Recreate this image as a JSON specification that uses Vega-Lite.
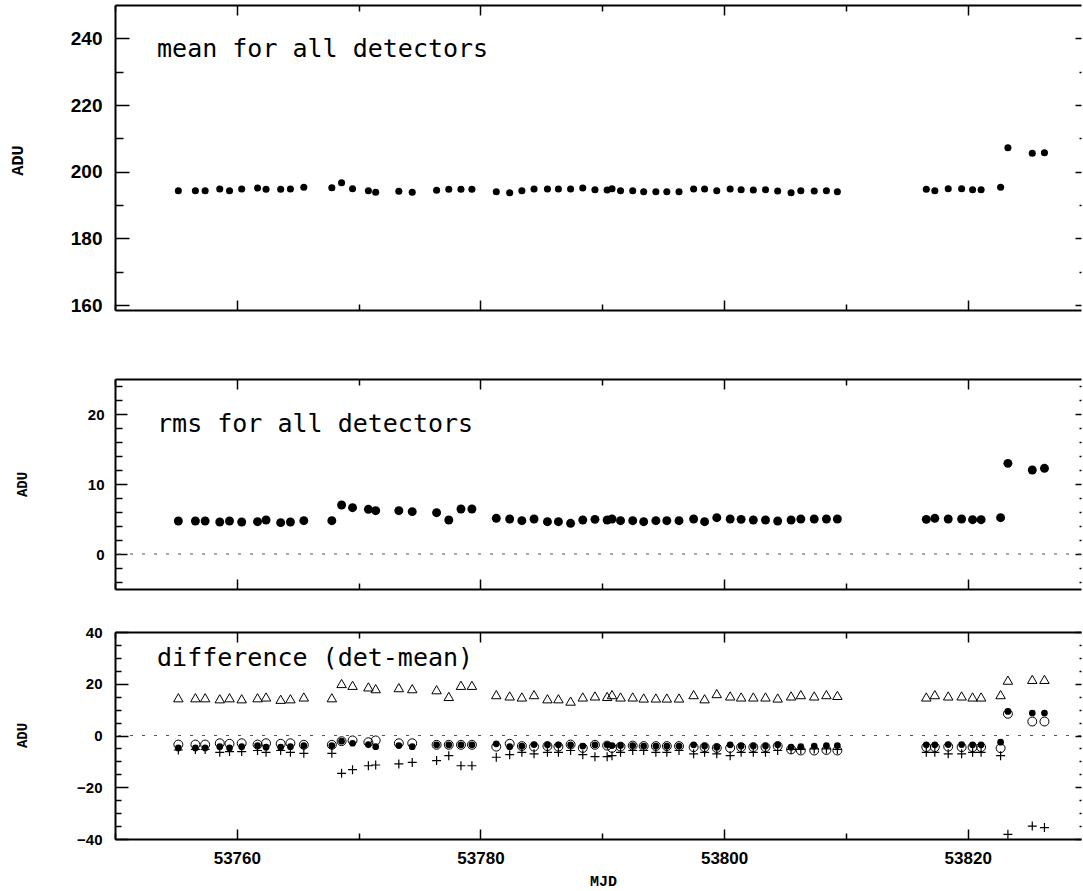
{
  "$schema": "https://vega.github.io/schema/vega-lite/v6.json",
  "padding": {"left": 8, "top": 4, "right": 0, "bottom": 5},
  "datasets": {
    "d": [
      {"mjd": 53755.2, "mean": 194.3, "rms": 4.71, "tri": 14.6, "open": -3.5, "fill": -4.8, "plus": -5.6},
      {"mjd": 53756.6, "mean": 194.3, "rms": 4.71, "tri": 14.6, "open": -3.5, "fill": -4.8, "plus": -5.4},
      {"mjd": 53757.4, "mean": 194.3, "rms": 4.71, "tri": 14.6, "open": -3.5, "fill": -4.8, "plus": -5.4},
      {"mjd": 53758.6, "mean": 194.8, "rms": 4.57, "tri": 14.2, "open": -3.0, "fill": -4.3, "plus": -6.5},
      {"mjd": 53759.4, "mean": 194.3, "rms": 4.71, "tri": 14.6, "open": -3.2, "fill": -4.8, "plus": -6.2},
      {"mjd": 53760.4, "mean": 194.8, "rms": 4.57, "tri": 14.2, "open": -3.0, "fill": -4.3, "plus": -6.2},
      {"mjd": 53761.7, "mean": 195.1, "rms": 4.62, "tri": 14.6, "open": -3.5, "fill": -3.9, "plus": -5.8},
      {"mjd": 53762.4, "mean": 194.7, "rms": 4.86, "tri": 14.9, "open": -3.0, "fill": -4.5, "plus": -6.5},
      {"mjd": 53763.6, "mean": 194.7, "rms": 4.48, "tri": 14.0, "open": -3.2, "fill": -4.5, "plus": -5.8},
      {"mjd": 53764.4, "mean": 194.8, "rms": 4.57, "tri": 14.2, "open": -3.0, "fill": -4.3, "plus": -6.5},
      {"mjd": 53765.5, "mean": 195.3, "rms": 4.76, "tri": 14.9, "open": -3.6, "fill": -3.9, "plus": -6.9},
      {"mjd": 53767.8, "mean": 195.2, "rms": 4.76, "tri": 14.6, "open": -3.6, "fill": -3.9, "plus": -6.9},
      {"mjd": 53768.6, "mean": 196.7, "rms": 7.0, "tri": 20.1, "open": -2.2, "fill": -2.2, "plus": -14.6},
      {"mjd": 53769.5, "mean": 194.9, "rms": 6.62, "tri": 19.4, "open": -1.9, "fill": -3.0, "plus": -13.2},
      {"mjd": 53770.8, "mean": 194.3, "rms": 6.38, "tri": 18.8, "open": -2.6, "fill": -3.5, "plus": -11.7},
      {"mjd": 53771.4, "mean": 193.8, "rms": 6.19, "tri": 18.1, "open": -1.9, "fill": -4.3, "plus": -11.4},
      {"mjd": 53773.3, "mean": 194.1, "rms": 6.19, "tri": 18.5, "open": -3.0, "fill": -3.9, "plus": -11.0},
      {"mjd": 53774.4, "mean": 193.8, "rms": 6.05, "tri": 18.1, "open": -3.0, "fill": -4.3, "plus": -10.4},
      {"mjd": 53776.4, "mean": 194.4, "rms": 5.9, "tri": 17.7, "open": -3.6, "fill": -3.6, "plus": -9.7},
      {"mjd": 53777.4, "mean": 194.7, "rms": 4.86, "tri": 15.1, "open": -3.6, "fill": -3.6, "plus": -7.8},
      {"mjd": 53778.4, "mean": 194.7, "rms": 6.43, "tri": 19.4, "open": -3.6, "fill": -3.6, "plus": -11.7},
      {"mjd": 53779.3, "mean": 194.7, "rms": 6.43, "tri": 19.4, "open": -3.6, "fill": -3.6, "plus": -11.7},
      {"mjd": 53781.3, "mean": 194.0, "rms": 5.1, "tri": 15.8, "open": -4.3, "fill": -3.2, "plus": -8.4},
      {"mjd": 53782.4, "mean": 193.7, "rms": 5.0, "tri": 15.3, "open": -3.2, "fill": -4.3, "plus": -7.4},
      {"mjd": 53783.4, "mean": 194.3, "rms": 4.76, "tri": 14.9, "open": -4.1, "fill": -4.1, "plus": -6.5},
      {"mjd": 53784.4, "mean": 194.8, "rms": 5.0, "tri": 15.8, "open": -4.3, "fill": -3.5, "plus": -7.1},
      {"mjd": 53785.5, "mean": 194.8, "rms": 4.62, "tri": 14.2, "open": -4.1, "fill": -3.6, "plus": -6.5},
      {"mjd": 53786.4, "mean": 194.8, "rms": 4.62, "tri": 14.2, "open": -4.3, "fill": -3.6, "plus": -6.5},
      {"mjd": 53787.4, "mean": 194.8, "rms": 4.38, "tri": 13.3, "open": -3.5, "fill": -3.6, "plus": -5.8},
      {"mjd": 53788.4, "mean": 195.1, "rms": 4.86, "tri": 14.9, "open": -4.8, "fill": -4.1, "plus": -7.4},
      {"mjd": 53789.4, "mean": 194.6, "rms": 4.95, "tri": 15.3, "open": -3.6, "fill": -3.6, "plus": -8.2},
      {"mjd": 53790.4, "mean": 194.5, "rms": 4.86, "tri": 15.1, "open": -3.9, "fill": -3.6, "plus": -8.2},
      {"mjd": 53790.8, "mean": 194.9, "rms": 5.0, "tri": 15.8, "open": -4.8, "fill": -3.9, "plus": -7.8},
      {"mjd": 53791.5, "mean": 194.3, "rms": 4.76, "tri": 14.9, "open": -4.3, "fill": -3.9, "plus": -6.5},
      {"mjd": 53792.5, "mean": 194.3, "rms": 4.76, "tri": 14.9, "open": -3.9, "fill": -3.9, "plus": -5.8},
      {"mjd": 53793.4, "mean": 194.0, "rms": 4.62, "tri": 14.5, "open": -4.1, "fill": -4.1, "plus": -5.8},
      {"mjd": 53794.4, "mean": 194.0, "rms": 4.76, "tri": 14.5, "open": -4.1, "fill": -4.1, "plus": -6.5},
      {"mjd": 53795.3, "mean": 194.0, "rms": 4.76, "tri": 14.5, "open": -4.1, "fill": -4.1, "plus": -6.5},
      {"mjd": 53796.3, "mean": 194.0, "rms": 4.76, "tri": 14.5, "open": -4.1, "fill": -4.1, "plus": -5.8},
      {"mjd": 53797.5, "mean": 194.8, "rms": 5.0, "tri": 15.8, "open": -4.5, "fill": -3.6, "plus": -7.1},
      {"mjd": 53798.4, "mean": 194.8, "rms": 4.62, "tri": 14.2, "open": -4.5, "fill": -4.1, "plus": -6.5},
      {"mjd": 53799.4, "mean": 194.3, "rms": 5.19, "tri": 16.2, "open": -4.8, "fill": -4.5, "plus": -7.1},
      {"mjd": 53800.5, "mean": 194.8, "rms": 5.0, "tri": 15.3, "open": -4.8, "fill": -3.6, "plus": -7.8},
      {"mjd": 53801.4, "mean": 194.6, "rms": 4.95, "tri": 14.9, "open": -4.5, "fill": -4.1, "plus": -6.5},
      {"mjd": 53802.4, "mean": 194.5, "rms": 4.86, "tri": 14.9, "open": -4.5, "fill": -4.1, "plus": -6.5},
      {"mjd": 53803.4, "mean": 194.6, "rms": 4.86, "tri": 14.9, "open": -4.5, "fill": -4.1, "plus": -6.5},
      {"mjd": 53804.4, "mean": 194.2, "rms": 4.71, "tri": 14.5, "open": -4.1, "fill": -3.6, "plus": -5.8},
      {"mjd": 53805.5, "mean": 193.7, "rms": 4.86, "tri": 15.3, "open": -5.4, "fill": -4.5, "plus": -5.4},
      {"mjd": 53806.3, "mean": 194.3, "rms": 5.0, "tri": 15.8, "open": -5.8, "fill": -4.3, "plus": -5.4},
      {"mjd": 53807.4, "mean": 194.2, "rms": 5.0, "tri": 15.3, "open": -5.8, "fill": -4.1, "plus": -5.2},
      {"mjd": 53808.4, "mean": 194.3, "rms": 5.0, "tri": 15.8, "open": -5.6, "fill": -3.9, "plus": -5.2},
      {"mjd": 53809.3, "mean": 194.0, "rms": 5.0, "tri": 15.5, "open": -5.8, "fill": -3.9, "plus": -5.4},
      {"mjd": 53816.6, "mean": 194.7, "rms": 4.95, "tri": 14.9, "open": -4.5, "fill": -3.6, "plus": -6.5},
      {"mjd": 53817.3, "mean": 194.3, "rms": 5.1, "tri": 15.8, "open": -4.5, "fill": -3.6, "plus": -6.5},
      {"mjd": 53818.4, "mean": 194.9, "rms": 5.0, "tri": 15.3, "open": -4.3, "fill": -3.5, "plus": -7.1},
      {"mjd": 53819.5, "mean": 194.9, "rms": 5.0, "tri": 15.3, "open": -4.5, "fill": -3.5, "plus": -7.1},
      {"mjd": 53820.4, "mean": 194.6, "rms": 4.9, "tri": 14.9, "open": -4.5, "fill": -3.6, "plus": -6.5},
      {"mjd": 53821.1, "mean": 194.6, "rms": 4.9, "tri": 14.9, "open": -4.5, "fill": -3.6, "plus": -6.5},
      {"mjd": 53822.7, "mean": 195.3, "rms": 5.19, "tri": 15.8, "open": -4.9, "fill": -2.6, "plus": -7.8},
      {"mjd": 53823.3, "mean": 207.2, "rms": 12.95, "tri": 21.4, "open": 8.4, "fill": 9.3, "plus": -38.2},
      {"mjd": 53825.3, "mean": 205.5, "rms": 12.0, "tri": 21.7, "open": 5.4, "fill": 8.7, "plus": -35.0},
      {"mjd": 53826.3, "mean": 205.7, "rms": 12.24, "tri": 21.7, "open": 5.4, "fill": 8.7, "plus": -35.6}
    ]
  },
  "vconcat": [
    {
      "width": 966,
      "height": 331,
      "layer": [
        {
          "data": {"name": "d"},
          "layer": [
            {
              "mark": {"type": "point", "shape": "circle", "filled": true, "color": "black", "size": 50, "opacity": 1},
              "encoding": {
                "x": {"field": "mjd", "type": "quantitative", "scale": {"domain": [53750, 53829.3], "nice": false, "zero": false},
                  "axis": {"orient": "bottom", "offset": -26, "values": [53750, 53760, 53770, 53780, 53790, 53800, 53810, 53820], "labels": false, "title": null,
                    "tickSize": {"condition": {"test": "datum.value % 20 === 0", "value": -10}, "value": -6}}},
                "y": {"field": "mean", "type": "quantitative", "scale": {"domain": [158.5, 250], "range": [305, 0], "nice": false, "zero": false},
                  "axis": {"orient": "left", "values": [160, 170, 180, 190, 200, 210, 220, 230, 240], "format": "d",
                    "labelExpr": "datum.value % 20 === 0 ? datum.label : ''", "labelFontSize": 19, "labelPadding": 27,
                    "tickSize": {"condition": {"test": "datum.value % 20 === 0", "value": -14}, "value": -8},
                    "title": "ADU", "titleFont": "Liberation Mono", "titleFontWeight": "bold", "titleFontSize": 17,
                    "titleAngle": 270, "titleX": -89, "titleY": 155, "titleAlign": "center", "titleBaseline": "bottom"}}
              }
            }
          ]
        },
        {
          "data": {"values": [{}]},
          "mark": {"type": "text", "align": "left", "baseline": "alphabetic", "font": "DejaVu Sans Mono", "fontSize": 25, "color": "black"},
          "encoding": {
            "x": {"datum": 53753.45, "type": "quantitative", "scale": {"domain": [53750, 53829.3], "nice": false, "zero": false},
              "axis": {"orient": "top", "values": [53750, 53760, 53770, 53780, 53790, 53800, 53810, 53820], "labels": false, "title": null,
                "tickSize": {"condition": {"test": "datum.value % 20 === 0", "value": -10}, "value": -6}}},
            "y": {"datum": 234.5, "type": "quantitative", "scale": {"domain": [158.5, 250], "range": [305, 0], "nice": false, "zero": false},
              "axis": {"orient": "right", "values": [160, 170, 180, 190, 200, 210, 220, 230, 240], "labels": false, "domain": false, "title": null,
                "tickSize": {"condition": {"test": "datum.value % 20 === 0", "value": -6}, "value": -2}}},
            "text": {"value": "mean for all detectors"}
          }
        }
      ],
      "resolve": {"scale": {"x": "independent", "y": "independent"}}
    },
    {
      "width": 966,
      "height": 210,
      "layer": [
        {
          "layer": [
            {
              "data": {"values": [{}]},
              "mark": {"type": "rule", "strokeDash": [3, 9], "color": "#555", "strokeWidth": 1},
              "encoding": {
                "y": {"datum": 0, "type": "quantitative", "scale": {"domain": [-5, 25], "nice": false, "zero": false},
                  "axis": {"orient": "left", "values": [-4, -2, 0, 2, 4, 6, 8, 10, 12, 14, 16, 18, 20, 22, 24], "format": "d",
                    "labelExpr": "datum.value % 10 === 0 ? datum.label : ''", "labelFontSize": 15, "labelPadding": 23,
                    "tickSize": {"condition": {"test": "datum.value % 10 === 0", "value": -12}, "value": -7},
                    "title": "ADU", "titleFont": "Liberation Mono", "titleFontWeight": "bold", "titleFontSize": 14,
                    "titleAngle": 270, "titleX": -86, "titleY": 105, "titleAlign": "center", "titleBaseline": "bottom"}}
              }
            },
            {
              "data": {"name": "d"},
              "mark": {"type": "point", "shape": "circle", "filled": true, "color": "black", "size": 80, "opacity": 1},
              "encoding": {
                "x": {"field": "mjd", "type": "quantitative", "scale": {"domain": [53750, 53829.3], "nice": false, "zero": false},
                  "axis": {"orient": "bottom", "values": [53750, 53760, 53770, 53780, 53790, 53800, 53810, 53820], "labels": false, "title": null,
                    "tickSize": {"condition": {"test": "datum.value % 20 === 0", "value": -10}, "value": -6}}},
                "y": {"field": "rms", "type": "quantitative", "scale": {"domain": [-5, 25], "nice": false, "zero": false},
                  "axis": {"orient": "left", "values": [-4, -2, 0, 2, 4, 6, 8, 10, 12, 14, 16, 18, 20, 22, 24], "format": "d",
                    "labelExpr": "datum.value % 10 === 0 ? datum.label : ''", "labelFontSize": 15, "labelPadding": 23,
                    "tickSize": {"condition": {"test": "datum.value % 10 === 0", "value": -12}, "value": -7},
                    "title": "ADU", "titleFont": "Liberation Mono", "titleFontWeight": "bold", "titleFontSize": 14,
                    "titleAngle": 270, "titleX": -86, "titleY": 105, "titleAlign": "center", "titleBaseline": "bottom"}}
              }
            }
          ]
        },
        {
          "data": {"values": [{}]},
          "mark": {"type": "text", "align": "left", "baseline": "alphabetic", "font": "DejaVu Sans Mono", "fontSize": 25, "color": "black"},
          "encoding": {
            "x": {"datum": 53753.45, "type": "quantitative", "scale": {"domain": [53750, 53829.3], "nice": false, "zero": false},
              "axis": {"orient": "top", "values": [53750, 53760, 53770, 53780, 53790, 53800, 53810, 53820], "labels": false, "title": null,
                "tickSize": {"condition": {"test": "datum.value % 20 === 0", "value": -10}, "value": -6}}},
            "y": {"datum": 17.4, "type": "quantitative", "scale": {"domain": [-5, 25], "nice": false, "zero": false},
              "axis": {"orient": "right", "values": [-4, -2, 0, 2, 4, 6, 8, 10, 12, 14, 16, 18, 20, 22, 24], "labels": false, "domain": false, "title": null,
                "tickSize": {"condition": {"test": "datum.value % 10 === 0", "value": -6}, "value": -2}}},
            "text": {"value": "rms for all detectors"}
          }
        }
      ],
      "resolve": {"scale": {"x": "independent", "y": "independent"}}
    },
    {
      "width": 966,
      "height": 207,
      "layer": [
        {
          "layer": [
            {
              "data": {"values": [{}]},
              "mark": {"type": "rule", "strokeDash": [3, 9], "color": "#555", "strokeWidth": 1},
              "encoding": {
                "y": {"datum": 0, "type": "quantitative", "scale": {"domain": [-40, 40], "nice": false, "zero": false},
                  "axis": {"orient": "left", "values": [-40, -35, -30, -25, -20, -15, -10, -5, 0, 5, 10, 15, 20, 25, 30, 35, 40], "format": "d",
                    "labelExpr": "datum.value % 20 === 0 ? datum.label : ''", "labelFontSize": 15, "labelPadding": 26,
                    "tickSize": {"condition": {"test": "datum.value % 20 === 0", "value": -13}, "value": -6},
                    "title": "ADU", "titleFont": "Liberation Mono", "titleFontWeight": "bold", "titleFontSize": 14,
                    "titleAngle": 270, "titleX": -86, "titleY": 103, "titleAlign": "center", "titleBaseline": "bottom"}}
              }
            },
            {
              "data": {"name": "d"},
              "mark": {"type": "point", "shape": "triangle-up", "filled": false, "stroke": "black", "strokeWidth": 1, "size": 90, "opacity": 1},
              "encoding": {
                "x": {"field": "mjd", "type": "quantitative", "scale": {"domain": [53750, 53829.3], "nice": false, "zero": false},
                  "axis": {"orient": "bottom", "values": [53750, 53760, 53770, 53780, 53790, 53800, 53810, 53820], "format": "d",
                    "labelExpr": "datum.value % 20 === 0 ? datum.label : ''", "labelFontSize": 17, "labelPadding": 21, "labelBaseline": "top",
                    "tickSize": {"condition": {"test": "datum.value % 20 === 0", "value": -10}, "value": -6},
                    "title": "MJD", "titleFont": "Liberation Mono", "titleFontWeight": "bold", "titleFontSize": 15,
                    "titleX": 488, "titleY": 34, "titleAlign": "center", "titleBaseline": "top"}},
                "y": {"field": "tri", "type": "quantitative", "scale": {"domain": [-40, 40], "nice": false, "zero": false},
                  "axis": {"orient": "left", "values": [-40, -35, -30, -25, -20, -15, -10, -5, 0, 5, 10, 15, 20, 25, 30, 35, 40], "format": "d",
                    "labelExpr": "datum.value % 20 === 0 ? datum.label : ''", "labelFontSize": 15, "labelPadding": 26,
                    "tickSize": {"condition": {"test": "datum.value % 20 === 0", "value": -13}, "value": -6},
                    "title": "ADU", "titleFont": "Liberation Mono", "titleFontWeight": "bold", "titleFontSize": 14,
                    "titleAngle": 270, "titleX": -86, "titleY": 103, "titleAlign": "center", "titleBaseline": "bottom"}}
              }
            },
            {
              "data": {"name": "d"},
              "mark": {"type": "point", "shape": "circle", "filled": false, "stroke": "black", "strokeWidth": 1, "size": 80, "opacity": 1},
              "encoding": {
                "x": {"field": "mjd", "type": "quantitative", "scale": {"domain": [53750, 53829.3], "nice": false, "zero": false},
                  "axis": {"orient": "bottom", "values": [53750, 53760, 53770, 53780, 53790, 53800, 53810, 53820], "format": "d",
                    "labelExpr": "datum.value % 20 === 0 ? datum.label : ''", "labelFontSize": 17, "labelPadding": 21, "labelBaseline": "top",
                    "tickSize": {"condition": {"test": "datum.value % 20 === 0", "value": -10}, "value": -6},
                    "title": "MJD", "titleFont": "Liberation Mono", "titleFontWeight": "bold", "titleFontSize": 15,
                    "titleX": 488, "titleY": 34, "titleAlign": "center", "titleBaseline": "top"}},
                "y": {"field": "open", "type": "quantitative", "scale": {"domain": [-40, 40], "nice": false, "zero": false},
                  "axis": {"orient": "left", "values": [-40, -35, -30, -25, -20, -15, -10, -5, 0, 5, 10, 15, 20, 25, 30, 35, 40], "format": "d",
                    "labelExpr": "datum.value % 20 === 0 ? datum.label : ''", "labelFontSize": 15, "labelPadding": 26,
                    "tickSize": {"condition": {"test": "datum.value % 20 === 0", "value": -13}, "value": -6},
                    "title": "ADU", "titleFont": "Liberation Mono", "titleFontWeight": "bold", "titleFontSize": 14,
                    "titleAngle": 270, "titleX": -86, "titleY": 103, "titleAlign": "center", "titleBaseline": "bottom"}}
              }
            },
            {
              "data": {"name": "d"},
              "mark": {"type": "point", "shape": "circle", "filled": true, "color": "black", "size": 45, "opacity": 1},
              "encoding": {
                "x": {"field": "mjd", "type": "quantitative", "scale": {"domain": [53750, 53829.3], "nice": false, "zero": false},
                  "axis": {"orient": "bottom", "values": [53750, 53760, 53770, 53780, 53790, 53800, 53810, 53820], "format": "d",
                    "labelExpr": "datum.value % 20 === 0 ? datum.label : ''", "labelFontSize": 17, "labelPadding": 21, "labelBaseline": "top",
                    "tickSize": {"condition": {"test": "datum.value % 20 === 0", "value": -10}, "value": -6},
                    "title": "MJD", "titleFont": "Liberation Mono", "titleFontWeight": "bold", "titleFontSize": 15,
                    "titleX": 488, "titleY": 34, "titleAlign": "center", "titleBaseline": "top"}},
                "y": {"field": "fill", "type": "quantitative", "scale": {"domain": [-40, 40], "nice": false, "zero": false},
                  "axis": {"orient": "left", "values": [-40, -35, -30, -25, -20, -15, -10, -5, 0, 5, 10, 15, 20, 25, 30, 35, 40], "format": "d",
                    "labelExpr": "datum.value % 20 === 0 ? datum.label : ''", "labelFontSize": 15, "labelPadding": 26,
                    "tickSize": {"condition": {"test": "datum.value % 20 === 0", "value": -13}, "value": -6},
                    "title": "ADU", "titleFont": "Liberation Mono", "titleFontWeight": "bold", "titleFontSize": 14,
                    "titleAngle": 270, "titleX": -86, "titleY": 103, "titleAlign": "center", "titleBaseline": "bottom"}}
              }
            },
            {
              "data": {"name": "d"},
              "mark": {"type": "point", "shape": "M-1,0L1,0M0,-1L0,1", "filled": false, "stroke": "black", "strokeWidth": 1.2, "size": 81, "opacity": 1},
              "encoding": {
                "x": {"field": "mjd", "type": "quantitative", "scale": {"domain": [53750, 53829.3], "nice": false, "zero": false},
                  "axis": {"orient": "bottom", "values": [53750, 53760, 53770, 53780, 53790, 53800, 53810, 53820], "format": "d",
                    "labelExpr": "datum.value % 20 === 0 ? datum.label : ''", "labelFontSize": 17, "labelPadding": 21, "labelBaseline": "top",
                    "tickSize": {"condition": {"test": "datum.value % 20 === 0", "value": -10}, "value": -6},
                    "title": "MJD", "titleFont": "Liberation Mono", "titleFontWeight": "bold", "titleFontSize": 15,
                    "titleX": 488, "titleY": 34, "titleAlign": "center", "titleBaseline": "top"}},
                "y": {"field": "plus", "type": "quantitative", "scale": {"domain": [-40, 40], "nice": false, "zero": false},
                  "axis": {"orient": "left", "values": [-40, -35, -30, -25, -20, -15, -10, -5, 0, 5, 10, 15, 20, 25, 30, 35, 40], "format": "d",
                    "labelExpr": "datum.value % 20 === 0 ? datum.label : ''", "labelFontSize": 15, "labelPadding": 26,
                    "tickSize": {"condition": {"test": "datum.value % 20 === 0", "value": -13}, "value": -6},
                    "title": "ADU", "titleFont": "Liberation Mono", "titleFontWeight": "bold", "titleFontSize": 14,
                    "titleAngle": 270, "titleX": -86, "titleY": 103, "titleAlign": "center", "titleBaseline": "bottom"}}
              }
            }
          ]
        },
        {
          "data": {"values": [{}]},
          "mark": {"type": "text", "align": "left", "baseline": "alphabetic", "font": "DejaVu Sans Mono", "fontSize": 25, "color": "black"},
          "encoding": {
            "x": {"datum": 53753.45, "type": "quantitative", "scale": {"domain": [53750, 53829.3], "nice": false, "zero": false},
              "axis": {"orient": "top", "values": [53750, 53760, 53770, 53780, 53790, 53800, 53810, 53820], "labels": false, "title": null,
                "tickSize": {"condition": {"test": "datum.value % 20 === 0", "value": -10}, "value": -6}}},
            "y": {"datum": 26.7, "type": "quantitative", "scale": {"domain": [-40, 40], "nice": false, "zero": false},
              "axis": {"orient": "right", "values": [-40, -35, -30, -25, -20, -15, -10, -5, 0, 5, 10, 15, 20, 25, 30, 35, 40], "labels": false, "domain": false, "title": null,
                "tickSize": {"condition": {"test": "datum.value % 20 === 0", "value": -6}, "value": -2}}},
            "text": {"value": "difference (det-mean)"}
          }
        }
      ],
      "resolve": {"scale": {"x": "independent", "y": "independent"}}
    }
  ],
  "spacing": 43,
  "bounds": "flush",
  "config": {
    "view": {"stroke": null},
    "axis": {
      "grid": false,
      "minExtent": 0,
      "domainColor": "black",
      "domainWidth": 2,
      "tickColor": "black",
      "tickWidth": 1.5,
      "labelColor": "black",
      "titleColor": "black",
      "labelFont": "Liberation Sans",
      "labelFontWeight": "bold",
      "labelFlush": false,
      "labelOverlap": false
    }
  }
}
